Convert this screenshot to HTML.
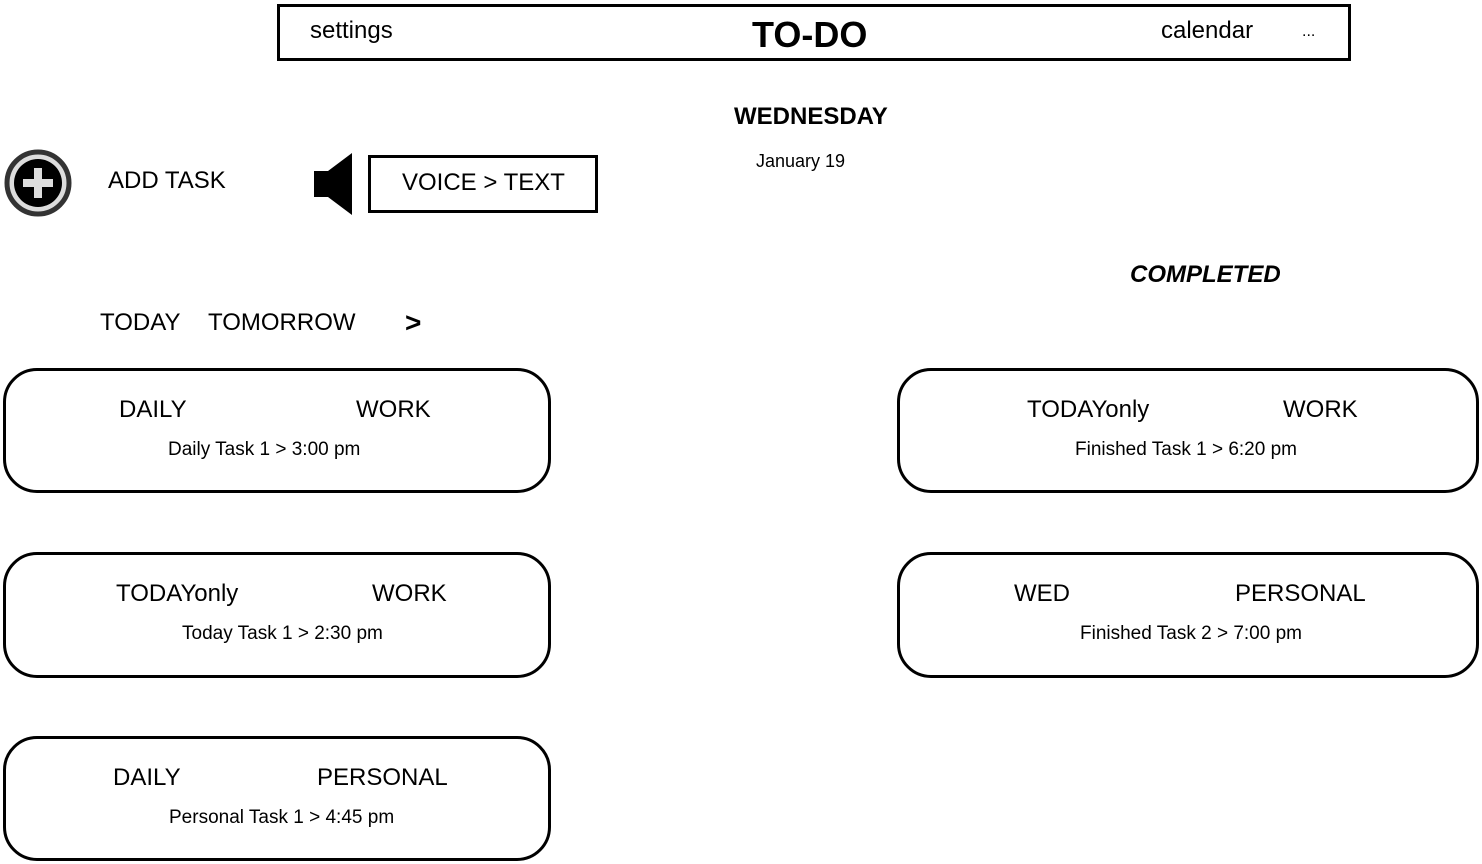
<!DOCTYPE html>
<html><head><meta charset="utf-8"><style>
body{margin:0;width:1482px;height:864px;background:#fff;position:relative;overflow:hidden;font-family:"Liberation Sans",sans-serif;color:#000}
.a{position:absolute;white-space:nowrap;line-height:1}
.card{position:absolute;border:3px solid #000;border-radius:34px;box-sizing:border-box;background:#fff}
.t{font-size:24px}
.s{font-size:19px}
</style></head><body>
<div style="position:absolute;left:277px;top:4px;width:1074px;height:57px;border:3px solid #000;box-sizing:border-box"></div>
<div class="a" style="left:310px;top:19px;font-size:24px">settings</div>
<div class="a" style="left:752px;top:17px;font-size:36px;font-weight:bold">TO-DO</div>
<div class="a" style="left:1161px;top:19px;font-size:24px">calendar</div>
<div class="a" style="left:1302px;top:24px;font-size:16px">...</div>
<div class="a" style="left:734px;top:105px;font-size:24px;font-weight:bold">WEDNESDAY</div>
<div class="a" style="left:756px;top:152px;font-size:18px">January 19</div>
<svg style="position:absolute;left:0;top:145px" width="80" height="80"><circle cx="38" cy="38" r="31" fill="#ddd" stroke="#333" stroke-width="5"/><circle cx="38" cy="38" r="24" fill="#000"/><rect x="23" y="34" width="30" height="8" fill="#ddd"/><rect x="34" y="23" width="8" height="30" fill="#ddd"/></svg>
<div class="a" style="left:108px;top:169px;font-size:24px">ADD TASK</div>
<svg style="position:absolute;left:312px;top:151px" width="44" height="68"><polygon points="2,20 16,20 40,2 40,64 16,46 2,46" fill="#000"/></svg>
<div style="position:absolute;left:368px;top:155px;width:230px;height:58px;border:3px solid #000;box-sizing:border-box"></div>
<div class="a" style="left:402px;top:171px;font-size:24px">VOICE &gt; TEXT</div>
<div class="a" style="left:1130px;top:263px;font-size:24px;font-weight:bold;font-style:italic">COMPLETED</div>
<div class="a" style="left:100px;top:311px;font-size:24px">TODAY</div>
<div class="a" style="left:208px;top:311px;font-size:24px">TOMORROW</div>
<div class="a" style="left:405px;top:309px;font-size:28px;font-weight:bold">&gt;</div>

<div class="card" style="left:3px;top:368px;width:548px;height:125px"></div>
<div class="a t" style="left:119px;top:398px">DAILY</div><div class="a t" style="left:356px;top:398px">WORK</div>
<div class="a s" style="left:168px;top:440px">Daily Task 1 &gt; 3:00 pm</div>

<div class="card" style="left:3px;top:552px;width:548px;height:126px"></div>
<div class="a t" style="left:116px;top:582px">TODAYonly</div><div class="a t" style="left:372px;top:582px">WORK</div>
<div class="a s" style="left:182px;top:624px">Today Task 1 &gt; 2:30 pm</div>

<div class="card" style="left:3px;top:736px;width:548px;height:125px"></div>
<div class="a t" style="left:113px;top:766px">DAILY</div><div class="a t" style="left:317px;top:766px">PERSONAL</div>
<div class="a s" style="left:169px;top:808px">Personal Task 1 &gt; 4:45 pm</div>

<div class="card" style="left:897px;top:368px;width:582px;height:125px"></div>
<div class="a t" style="left:1027px;top:398px">TODAYonly</div><div class="a t" style="left:1283px;top:398px">WORK</div>
<div class="a s" style="left:1075px;top:440px">Finished Task 1 &gt; 6:20 pm</div>

<div class="card" style="left:897px;top:552px;width:582px;height:126px"></div>
<div class="a t" style="left:1014px;top:582px">WED</div><div class="a t" style="left:1235px;top:582px">PERSONAL</div>
<div class="a s" style="left:1080px;top:624px">Finished Task 2 &gt; 7:00 pm</div>
</body></html>
